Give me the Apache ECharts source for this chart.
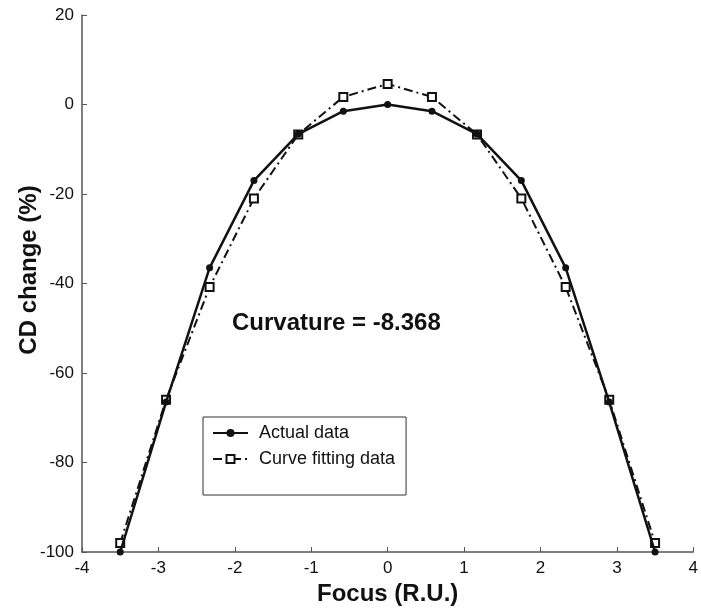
<!DOCTYPE html>
<html>
<head>
<meta charset="utf-8">
<script src="https://cdn.jsdelivr.net/npm/echarts@6/dist/echarts.min.js"></script>
<style>
  html, body { margin: 0; padding: 0; background: #fff; }
  #chart { width: 701px; height: 611px; }
</style>
</head>
<body>
<div id="chart"></div>
<script>
// focus positions (R.U.)
var focus = [-3.5, -2.9, -2.33, -1.75, -1.17, -0.58, 0, 0.58, 1.17, 1.75, 2.33, 2.9, 3.5];
// CD change (%)
var actual = [-100, -66.5, -36.5, -17, -6.6, -1.5, 0, -1.5, -6.6, -17, -36.5, -66.5, -100];
var fitted = [-98, -66, -40.8, -21, -6.7, 1.7, 4.6, 1.7, -6.7, -21, -40.8, -66, -98];
var xTicks = [-4, -3, -2, -1, 0, 1, 2, 3, 4];
var yTicks = [-100, -80, -60, -40, -20, 0, 20];

function pairs(xs, ys) {
  return xs.map(function (x, i) { return [x, ys[i]]; });
}

var font = 'Liberation Sans, Arial, sans-serif';
var ink = '#111';

var chart = echarts.init(document.getElementById('chart'));
chart.setOption({
  animation: false,
  textStyle: { fontFamily: font },
  grid: { left: 82, right: 3, top: 15, bottom: 56 },
  xAxis: {
    type: 'value',
    min: xTicks[0], max: xTicks[xTicks.length - 1], interval: 1,
    name: 'Focus (R.U.)',
    nameLocation: 'middle',
    nameGap: 30,
    nameTextStyle: { fontSize: 24, fontWeight: 'bold', color: ink },
    axisLine: { onZero: false, lineStyle: { color: '#555', width: 1.5 } },
    axisTick: { inside: true, length: 5, lineStyle: { color: '#555' } },
    axisLabel: { fontSize: 17, color: ink, margin: 8 },
    splitLine: { show: false }
  },
  yAxis: {
    type: 'value',
    min: yTicks[0], max: yTicks[yTicks.length - 1], interval: 20,
    axisLine: { show: true, onZero: false, lineStyle: { color: '#555', width: 1.5 } },
    axisTick: { show: true, inside: true, length: 5, lineStyle: { color: '#555' } },
    axisLabel: { fontSize: 17, color: ink, margin: 8 },
    splitLine: { show: false }
  },
  legend: {
    orient: 'vertical',
    left: 203, top: 417,
    padding: [7, 11, 27, 9],
    itemGap: 8,
    itemWidth: 35,
    itemHeight: 10,
    borderColor: '#333',
    borderWidth: 1,
    backgroundColor: '#fff',
    textStyle: { fontSize: 18, lineHeight: 18, color: ink, padding: [0, 0, 0, 6] },
    data: ['Actual data', 'Curve fitting data']
  },
  graphic: [{
    type: 'text',
    left: 232, top: 311,
    style: { text: 'Curvature = -8.368', fill: ink, font: 'bold 24px ' + font }
  }, {
    type: 'text',
    x: 29, y: 270,
    rotation: Math.PI / 2,
    style: {
      text: 'CD change (%)', fill: ink, font: 'bold 24px ' + font,
      align: 'center', verticalAlign: 'middle'
    }
  }],
  series: [{
    name: 'Actual data',
    type: 'line',
    data: pairs(focus, actual),
    symbol: 'circle',
    symbolSize: 7,
    itemStyle: { color: ink },
    lineStyle: { color: ink, width: 2.5 },
    z: 3
  }, {
    name: 'Curve fitting data',
    type: 'line',
    data: pairs(focus, fitted),
    symbol: 'emptyRect',
    symbolSize: 8,
    itemStyle: { color: ink, borderWidth: 2 },
    lineStyle: { color: ink, width: 2, type: [9, 4, 2, 4] },
    z: 2
  }]
});
</script>
</body>
</html>
